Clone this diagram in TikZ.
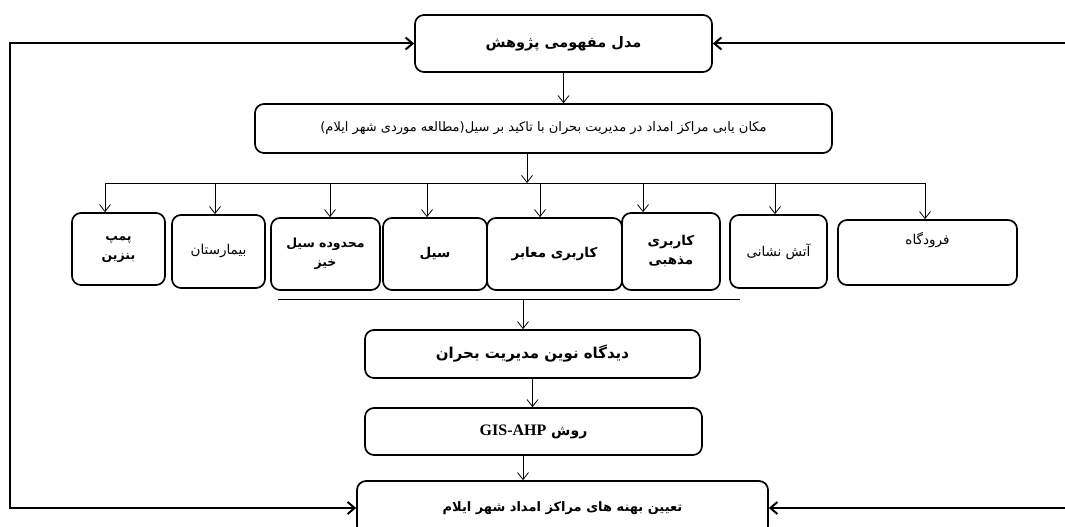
\documentclass[tikz,border=0pt]{standalone}
\usepackage{fontspec}
\usepackage{tikz}
\usetikzlibrary{arrows.meta, positioning}
\TeXXeTstate=1
\newfontfamily\arabicfont[Script=Arabic]{DejaVu Sans}
\newfontfamily\latinserif{Liberation Serif}
\newcommand{\fa}[1]{{\arabicfont\beginR #1\endR}}
\newcommand{\faB}[1]{{\arabicfont\bfseries\beginR #1\endR}}

\begin{document}
\begin{tikzpicture}[
  x=1pt, y=-1pt,
  box/.style={rounded corners=9pt, draw=black, line width=1.7pt, align=center, inner sep=2pt, font=\fontsize{13.5}{19}\selectfont},
  tip/.style={-{Straight Barb[length=7pt, width=11pt]}, line width=0.8pt},
  loopline/.style={{Straight Barb[length=7pt, width=12pt]}-{Straight Barb[length=7pt, width=12pt]}, line width=2pt},
  back/.style={-{Straight Barb[length=7pt, width=12pt]}, line width=2pt}
]
\useasboundingbox (0,0) rectangle (1065,527);

\node[box, minimum width=297pt, minimum height=57pt, font=\fontsize{14.5}{18}\selectfont] (concept) at (563.5,43.5) {\faB{مدل مفهومی پژوهش}};
\node[box, minimum width=577pt, minimum height=49pt, font=\fontsize{13}{16}\selectfont] (title) at (543.5,128.5) {\fa{مکان یابی مراکز امداد در مدیریت بحران با تاکید بر سیل(مطالعه موردی شهر ایلام)}};

\node[box, minimum width=93pt, minimum height=72pt, font=\fontsize{12.5}{19}\selectfont] (pump) at (118.5,249) {\faB{پمپ}\\\faB{بنزین}};
\node[box, minimum width=93pt, minimum height=73pt] (hospital) at (218.5,251.5) {\fa{بیمارستان}};
\node[box, minimum width=109pt, minimum height=72pt, font=\fontsize{12.5}{19}\selectfont] (floodzone) at (325.5,254) {\faB{محدوده سیل}\\\faB{خیز}};
\node[box, minimum width=104pt, minimum height=72pt] (flood) at (435,254) {\faB{سیل}};
\node[box, minimum width=135pt, minimum height=72pt] (roads) at (554.5,254) {\faB{کاربری معابر}};
\node[box, minimum width=98pt, minimum height=77pt] (religious) at (671,251.5) {\faB{کاربری}\\\faB{مذهبی}};
\node[box, minimum width=97pt, minimum height=73pt] (fire) at (778.5,251.5) {\fa{آتش نشانی}};
\node[box, minimum width=179pt, minimum height=65pt] (airport) at (927.5,252.5) {\fa{فرودگاه}\\[10pt]};

\node[box, minimum width=335pt, minimum height=48pt, font=\fontsize{15}{18}\selectfont] (vision) at (532.5,354) {\faB{دیدگاه نوین مدیریت بحران}};
\node[box, minimum width=337pt, minimum height=47pt, font=\fontsize{14}{18}\selectfont] (method) at (533.5,431.5) {\faB{روش {\latinserif\fontsize{16}{18}\selectfont\beginL GIS-AHP\endL}}};
\node[box, minimum width=411pt, minimum height=54pt, font=\fontsize{13}{18}\selectfont] (result) at (562.5,508) {\faB{تعیین بهنه های مراکز امداد شهر ایلام}};

\coordinate (busl) at (105,183);
\coordinate (busr) at (925,183);
\coordinate (rowl) at (278,299);
\coordinate (rowr) at (740,299);
\coordinate (lft) at (10,0);
\coordinate (rgt) at (1066,0);

\draw[tip] (concept.south) -- (concept.south |- title.north);
\draw[tip] ([xshift=-16.5pt]title.south) coordinate (t0) -- (t0 |- busl);
\draw[line width=0.8pt] (busl) -- (busr);
\foreach \n/\dx in {pump/-13.5, hospital/-3.5, floodzone/4.5, flood/-8, roads/-14.5, religious/-28, fire/-3.5, airport/-2.5}
  \draw[tip] ([xshift=\dx pt]\n.north) coordinate (t) (t |- busl) -- (t);

\draw[line width=0.8pt] (rowl) -- (rowr);
\draw[tip] ([xshift=-9.5pt]vision.north) coordinate (t1) (t1 |- rowl) -- (t1);
\draw[tip] (vision.south) -- (vision.south |- method.north);
\draw[tip] ([xshift=-10.5pt]method.south) coordinate (t2) -- (t2 |- result.north);

\draw[loopline] (concept.west) -- (concept.west -| lft) -- (result.west -| lft) -- (result.west);
\draw[back] (concept.east -| rgt) -- (concept.east);
\draw[back] (result.east -| rgt) -- (result.east);
\end{tikzpicture}
\end{document}
